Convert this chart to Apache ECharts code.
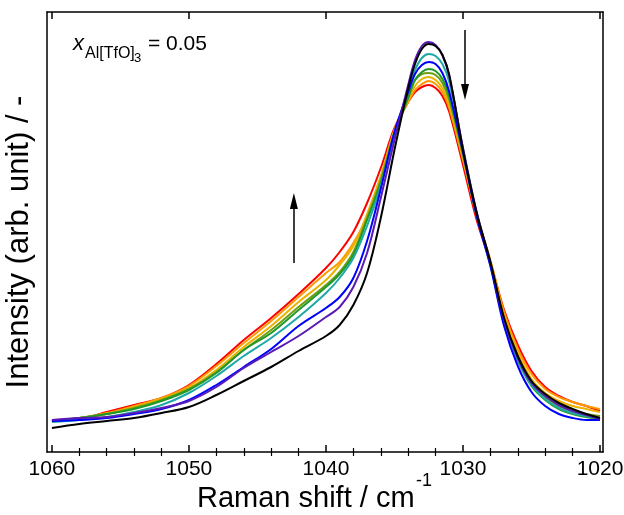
<!DOCTYPE html>
<html>
<head>
<meta charset="utf-8">
<script src="https://cdn.jsdelivr.net/npm/echarts@6/dist/echarts.min.js"></script>
<style>
html,body{margin:0;padding:0;background:#fff;}
#chart{width:624px;height:515px;}
</style>
</head>
<body>
<div id="chart"></div>
<script>
// Raman shift (cm^-1)
var wavenumbers = [1060,1058,1056,1054,1052,1050,1048,1046,1044,1042,1040,1039,1038,1037,1036,1035,1034,1033.5,1033,1032.5,1032,1031.5,1031,1030,1029,1028,1027,1026,1025,1024,1023,1022,1021,1020];
// intensities (arb. unit)
var redVals    = [31,33,40,47,54,67,88,112,134,158,184,200,220,249,284,324,350,360,365,367,364,356,340,287,232,190,142,107,81,65,56,50,46,41];
var orangeVals = [31,34,39,46,54,66,86,109,131,155,179,190,209,235,274,322,350,362,368,371,368,360,344,292,237,192,140,103,78,63,55,50,46,43];
var goldVals   = [31,34,38,45,53,64,82,105,126,150,172,187,206,238,276,322,352,366,373,375,372,364,347,294,237,190,136,99,73,59,51,46,43,40];
var oliveVals  = [31,34,38,44,52,63,80,102,122,145,167,180,200,234,272,320,356,372,378,379,377,369,352,297,236,188,132,95,69,55,46,41,38,36];
var greenVals  = [31,34,38,43,51,62,79,102,119,142,165,178,197,232,269,317,354,372,380,383,381,373,356,300,237,187,130,92,66,52,43,38,35,33];
var tealVals   = [30,32,35,40,47,59,76,96,114,135,159,174,194,226,266,317,362,382,394,398,396,388,370,304,239,188,130,92,67,53,44,39,36,34];
var blueVals   = [31,32,34,38,43,52,67,85,103,126,144,155,174,211,263,320,360,378,387,390,388,379,360,300,236,186,126,86,60,46,38,34,32,32];
var purpleVals = [32,34,35,39,44,51,65,84,100,116,135,145,165,199,254,312,367,392,406,410,407,397,376,304,240,190,132,94,69,56,47,41,37,33];
var blackVals  = [24,28,31,34,39,45,57,71,85,101,116,127,147,179,234,302,364,388,403,408,406,397,377,302,239,190,134,96,71,58,49,43,38,34];

var majorTicks = [1020,1030,1040,1050,1060];
var minorTicks = [1022,1024,1026,1028,1032,1034,1036,1038,1042,1044,1046,1048,1052,1054,1056,1058];

// arrows: [x, yStart, yEnd]
var upArrow = [1042.34, 189, 251];
var downArrow = [1029.85, 422, 360];

var seriesDefs = [
  {name:'red', color:'#ff0000', vals:redVals},
  {name:'orange', color:'#ff9900', vals:orangeVals},
  {name:'gold', color:'#e8b400', vals:goldVals},
  {name:'olive', color:'#6f9e12', vals:oliveVals},
  {name:'green', color:'#1f9a2a', vals:greenVals},
  {name:'teal', color:'#1fa8a8', vals:tealVals},
  {name:'blue', color:'#0000ff', vals:blueVals},
  {name:'purple', color:'#5a1ab4', vals:purpleVals},
  {name:'black', color:'#000000', vals:blackVals}
];

function pairs(vals){ return wavenumbers.map(function(w,i){return [w, vals[i]];}); }

var FONT = 'Liberation Sans, Arial, sans-serif';
var axisLine = {show:true, onZero:false, lineStyle:{color:'#000', width:1.5}};
var xMin = 1019.78, xMax = 1060.36;

var series = seriesDefs.map(function(d){
  return {
    type:'line', name:d.name, data:pairs(d.vals), smooth:0.35, showSymbol:false,
    xAxisIndex:0, yAxisIndex:0,
    lineStyle:{color:d.color, width:2}, itemStyle:{color:d.color}, silent:true
  };
});
series.push({
  type:'line', data:[], xAxisIndex:0, yAxisIndex:0, silent:true,
  markLine:{
    silent:true, animation:false, label:{show:false},
    lineStyle:{color:'#000', width:1.5, type:'solid'},
    data:[
      [{coord:[upArrow[0], upArrow[1]], symbol:'none'}, {coord:[upArrow[0], upArrow[2]], symbol:'triangle', symbolSize:[8,16]}],
      [{coord:[downArrow[0], downArrow[1]], symbol:'none'}, {coord:[downArrow[0], downArrow[2]], symbol:'triangle', symbolSize:[8,16]}]
    ]
  }
});

var chart = echarts.init(document.getElementById('chart'), null, {renderer:'canvas'});
chart.setOption({
  animation:false,
  backgroundColor:'#fff',
  grid:{left:47, right:21, top:12, bottom:63, containLabel:false, outerBoundsMode:'none'},
  xAxis:[
    {type:'value', position:'bottom', min:xMin, max:xMax, inverse:true,
     axisLine:axisLine,
     axisTick:{show:true, inside:true, length:7, customValues:majorTicks, lineStyle:{color:'#000', width:1.5}},
     axisLabel:{show:true, customValues:majorTicks, color:'#000', fontSize:21, fontFamily:FONT, margin:7,
                formatter:function(v){return String(v);}},
     splitLine:{show:false}
    },
    {type:'value', position:'bottom', min:xMin, max:xMax, inverse:true,
     axisLine:{show:false},
     axisTick:{show:true, inside:true, length:4, customValues:minorTicks, lineStyle:{color:'#000', width:1.2}},
     axisLabel:{show:false}, splitLine:{show:false}},
    {type:'value', position:'top', min:xMin, max:xMax, inverse:true,
     axisLine:axisLine,
     axisTick:{show:true, inside:true, length:7, customValues:majorTicks, lineStyle:{color:'#000', width:1.5}},
     axisLabel:{show:false}, splitLine:{show:false}},
    {type:'value', position:'top', min:xMin, max:xMax, inverse:true,
     axisLine:{show:false},
     axisTick:{show:true, inside:true, length:4, customValues:minorTicks, lineStyle:{color:'#000', width:1.2}},
     axisLabel:{show:false}, splitLine:{show:false}}
  ],
  yAxis:[
    {type:'value', position:'left', min:0, max:440,
     axisLine:axisLine, axisTick:{show:false}, axisLabel:{show:false}, splitLine:{show:false},
     name:'Intensity (arb. unit) / -', nameLocation:'middle', nameGap:12, nameRotate:90,
     nameTextStyle:{color:'#000', fontSize:31, fontFamily:FONT, padding:[0,20,0,0]}},
    {type:'value', position:'right', min:0, max:440,
     axisLine:axisLine, axisTick:{show:false}, axisLabel:{show:false}, splitLine:{show:false}}
  ],
  graphic:[
    {type:'text', left:73, top:33, style:{text:'x', font:'italic 22px '+FONT, fill:'#000'}},
    {type:'text', left:85, top:46, style:{text:'Al[TfO]', font:'16px '+FONT, fill:'#000'}},
    {type:'text', left:134, top:52, style:{text:'3', font:'13px '+FONT, fill:'#000'}},
    {type:'text', left:148, top:34, style:{text:'= 0.05', font:'21px '+FONT, fill:'#000'}},
    {type:'text', x:197, y:499, style:{text:'Raman shift / cm', font:'29px '+FONT, fill:'#000', align:'left', verticalAlign:'middle'}},
    {type:'text', x:416, y:481, style:{text:'-1', font:'18px '+FONT, fill:'#000', align:'left', verticalAlign:'middle'}}
  ],
  series:series
});
</script>
</body>
</html>
